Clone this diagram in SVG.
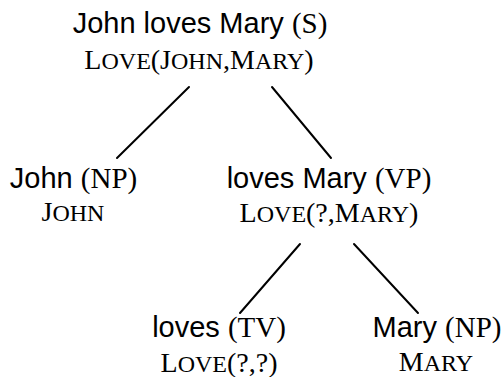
<svg xmlns="http://www.w3.org/2000/svg" width="503" height="377" viewBox="0 0 503 377">
<style>
text{text-anchor:middle;fill:#000}
.w{font-family:"Liberation Sans",Arial,sans-serif;font-size:29px}
.c{font-family:"Liberation Serif","Times New Roman",serif}
.sem{font-family:"Liberation Serif","Times New Roman",serif;font-size:28px}
.s{font-size:24px}
.edge{stroke:#000;stroke-width:2;fill:none;stroke-linecap:round}
</style>
<rect width="503" height="377" fill="#fff"/>
<g id="connectors">
<line class="edge" x1="189" y1="87" x2="117" y2="158"/>
<line class="edge" x1="272" y1="87" x2="331" y2="158"/>
<line class="edge" x1="300" y1="244" x2="240" y2="313"/>
<line class="edge" x1="354" y1="244" x2="418" y2="313"/>
</g>
<g id="node-S">
<text class="w" x="200" y="33">John loves Mary <tspan class="c">(S)</tspan></text>
<text class="sem" x="199" y="69">L<tspan class="s">OVE</tspan>(J<tspan class="s">OHN</tspan>,M<tspan class="s">ARY</tspan>)</text>
</g>
<g id="node-NP-john">
<text class="w" x="73.5" y="188">John <tspan class="c">(NP)</tspan></text>
<text class="sem" x="73" y="221">J<tspan class="s">OHN</tspan></text>
</g>
<g id="node-VP">
<text class="w" x="329" y="188">loves Mary <tspan class="c">(VP)</tspan></text>
<text class="sem" x="329" y="222">L<tspan class="s">OVE</tspan>(?,M<tspan class="s">ARY</tspan>)</text>
</g>
<g id="node-TV">
<text class="w" x="219" y="337">loves <tspan class="c">(TV)</tspan></text>
<text class="sem" x="219" y="372">L<tspan class="s">OVE</tspan>(?,?)</text>
</g>
<g id="node-NP-mary">
<text class="w" x="437" y="337">Mary <tspan class="c">(NP)</tspan></text>
<text class="sem" x="436" y="371">M<tspan class="s">ARY</tspan></text>
</g>
</svg>
